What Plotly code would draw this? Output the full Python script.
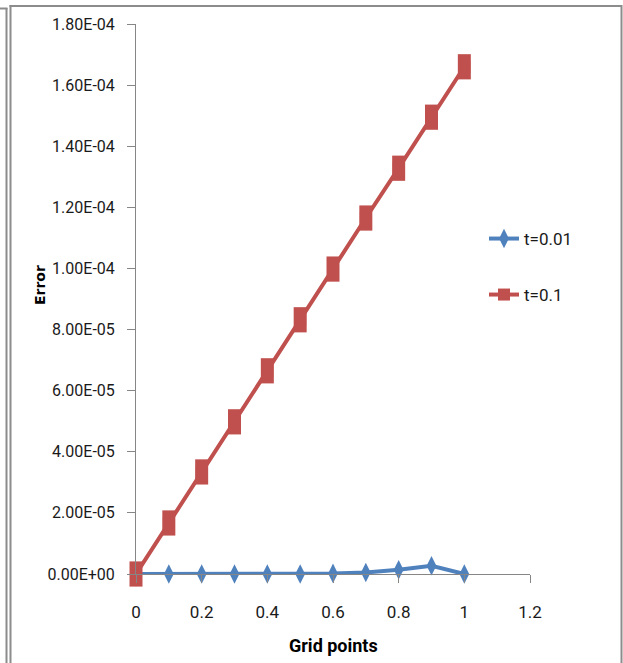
import plotly.graph_objects as go

# Grid points and absolute error at two times
grid = [0, 0.1, 0.2, 0.3, 0.4, 0.5, 0.6, 0.7, 0.8, 0.9, 1.0]
err_t001 = [0, 0, 0, 0, 0, 0, 2e-7, 5e-7, 1.4e-6, 2.7e-6, 0]
err_t01 = [0, 1.67e-5, 3.34e-5, 4.98e-5, 6.65e-5, 8.32e-5, 9.98e-5,
           1.165e-4, 1.328e-4, 1.495e-4, 1.66e-4]

y_ticks = [0, 2e-5, 4e-5, 6e-5, 8e-5, 1e-4, 1.2e-4, 1.4e-4, 1.6e-4, 1.8e-4]
x_ticks = [0, 0.2, 0.4, 0.6, 0.8, 1.0, 1.2]
x_labels = ["0", "0.2", "0.4", "0.6", "0.8", "1", "1.2"]

BLUE = "#4F81BD"
RED = "#C0504D"
AXIS = "#868686"
FONT = "Roboto, DejaVu Sans Condensed, sans-serif"

W, H = 623, 663
L, R, T, B = 136, 93, 24, 89
PW, PH = W - L - R, H - T - B


def px(x):
    return (x - L) / PW


def py(y):
    return (H - B - y) / PH


fig = go.Figure()

fig.add_trace(go.Scatter(
    x=grid, y=err_t001, name="t=0.01", mode="lines+markers",
    line=dict(color=BLUE, width=4),
    marker=dict(symbol="diamond-tall", size=14, color=BLUE),
    legend="legend", cliponaxis=False,
))

fig.add_trace(go.Scatter(
    x=grid, y=err_t01, name="t=0.1", mode="lines+markers",
    line=dict(color=RED, width=4),
    marker=dict(symbol="square", size=12, color=RED),
    legend="legend2", cliponaxis=False,
))
# tall rectangular markers on top of the t=0.1 series
fig.add_trace(go.Scatter(
    x=grid, y=err_t01, mode="markers", showlegend=False, hoverinfo="skip",
    marker=dict(symbol="line-ns", size=18, color=RED,
                line=dict(color=RED, width=13)),
    cliponaxis=False,
))

# surrounding frame
frame = dict(type="line", xref="paper", yref="paper",
             line=dict(color="#8c8c8c", width=2), layer="above")
shapes = [
    dict(frame, x0=px(10.5), x1=px(10.5), y0=py(5), y1=py(663)),
    dict(frame, x0=px(9.5), x1=px(622), y0=py(6), y1=py(6)),
    dict(frame, x0=px(621.5), x1=px(621.5), y0=py(5), y1=py(663)),
    dict(frame, x0=px(6.5), x1=px(6.5), y0=py(8), y1=py(663)),
    dict(frame, x0=px(0), x1=px(7.5), y0=py(8.5), y1=py(8.5)),
]

fig.update_layout(
    width=W, height=H,
    margin=dict(l=L, r=R, t=T, b=B),
    paper_bgcolor="white", plot_bgcolor="white",
    font=dict(family=FONT, size=16, color="#1a1a1a"),
    shapes=shapes,
    legend=dict(x=px(484), y=py(239), xanchor="left", yanchor="middle",
                bgcolor="rgba(0,0,0,0)", font=dict(size=17)),
    legend2=dict(x=px(484), y=py(295), xanchor="left", yanchor="middle",
                 bgcolor="rgba(0,0,0,0)", font=dict(size=17)),
    annotations=[
        dict(text="<b>Error</b>", xref="paper", yref="paper",
             x=px(40), y=py(285), xanchor="center", yanchor="middle",
             showarrow=False, textangle=-90,
             font=dict(family="DejaVu Sans", size=14, color="#000")),
        dict(text="<b>Grid points</b>", xref="paper", yref="paper",
             x=px(333), y=py(645), xanchor="center", yanchor="middle",
             showarrow=False,
             font=dict(family=FONT, size=18, color="#000")),
    ],
)

fig.update_xaxes(
    range=[0, 1.2], tickvals=x_ticks, ticktext=x_labels,
    showgrid=False, zeroline=False, showline=True, linecolor=AXIS,
    linewidth=1, ticks="outside", ticklen=8, tickcolor=AXIS,
    tickfont=dict(size=17), ticklabelstandoff=15,
)
fig.update_yaxes(
    range=[0, 1.8e-4], tickvals=y_ticks,
    ticktext=[f"{v:.2E}" for v in y_ticks],
    showgrid=False, zeroline=False, showline=True, linecolor=AXIS,
    linewidth=1, ticks="outside", ticklen=8, tickcolor=AXIS,
    tickfont=dict(size=16), ticklabelstandoff=9,
)

fig.write_html("out.html")
